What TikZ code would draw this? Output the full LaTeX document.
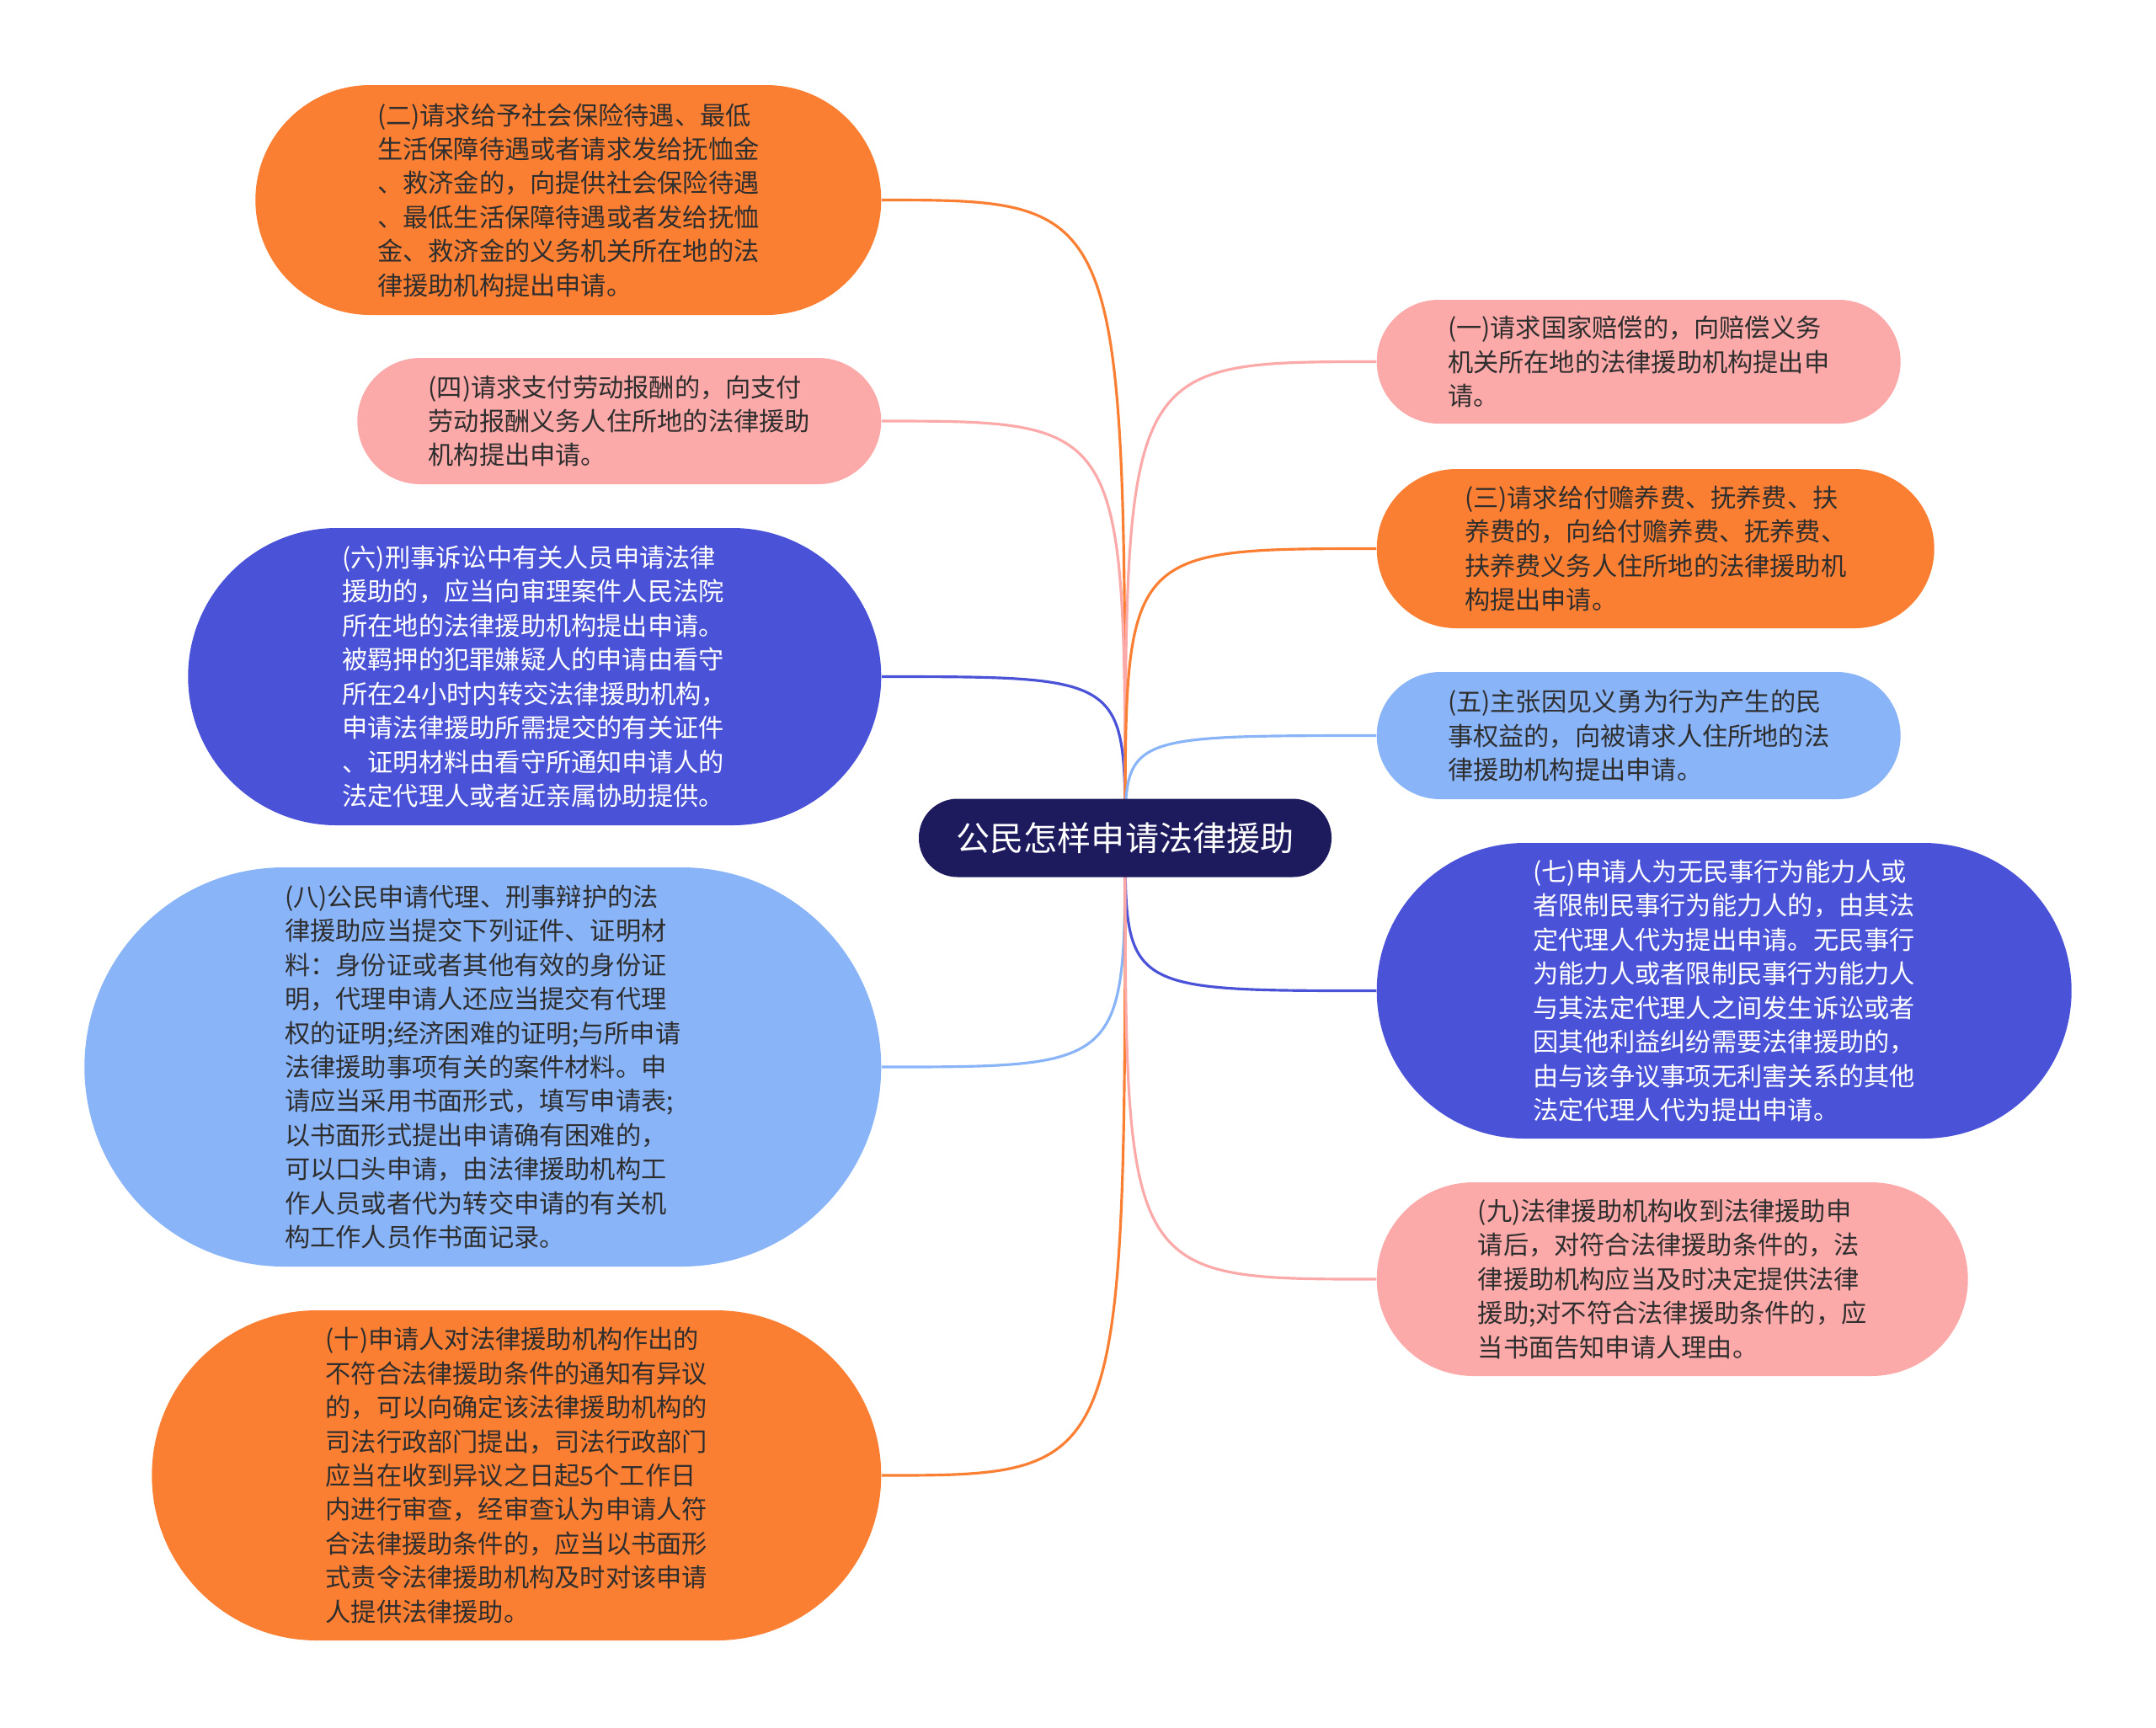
\documentclass[tikz,border=0pt]{standalone}
\usepackage{fontspec}
\setmainfont{Noto Sans CJK SC}
\usetikzlibrary{backgrounds}

\definecolor{orangefill}{HTML}{FB7F32}
\definecolor{pinkfill}{HTML}{FCA9A9}
\definecolor{bluefill}{HTML}{4A52D7}
\definecolor{lightfill}{HTML}{8AB4F8}
\definecolor{rootfill}{HTML}{1D1B5E}
\definecolor{darktext}{HTML}{2E2E2E}

\tikzset{
  leaf/.style 2 args={align=left, inner sep=0pt,
    font=\fontsize{8.6}{11.5}\selectfont,
    minimum width=#1cm, minimum height=#2cm, rounded corners=#2*0.5cm},
  orangeleaf/.style={fill=orangefill, text=darktext},
  pinkleaf/.style={fill=pinkfill, text=darktext},
  blueleaf/.style={fill=bluefill, text=white},
  lightleaf/.style={fill=lightfill, text=darktext},
  link/.style={line width=0.9pt}
}

\begin{document}
\begin{tikzpicture}
    \useasboundingbox (0,0) rectangle (25.6,-20.51);

    % Central topic
    \node[fill=rootfill, text=white, rounded corners=0.46cm,
          minimum width=4.9cm, minimum height=0.93cm,
          font=\fontsize{11.4}{14}\selectfont] (root) at (13.36,-9.95) {公民怎样申请法律援助};

    % Left branches
    \node[leaf={7.43}{2.73}, orangeleaf, anchor=east] (n2) at (10.47,-2.375) {(二)请求给予社会保险待遇、最低\\生活保障待遇或者请求发给抚恤金\\、救济金的，向提供社会保险待遇\\、最低生活保障待遇或者发给抚恤\\金、救济金的义务机关所在地的法\\律援助机构提出申请。};
    \node[leaf={6.22}{1.50}, pinkleaf, anchor=east] (n4) at (10.47,-5.00) {(四)请求支付劳动报酬的，向支付\\劳动报酬义务人住所地的法律援助\\机构提出申请。};
    \node[leaf={8.23}{3.53}, blueleaf, anchor=east] (n6) at (10.47,-8.035) {(六)刑事诉讼中有关人员申请法律\\援助的，应当向审理案件人民法院\\所在地的法律援助机构提出申请。\\被羁押的犯罪嫌疑人的申请由看守\\所在24小时内转交法律援助机构，\\申请法律援助所需提交的有关证件\\、证明材料由看守所通知申请人的\\法定代理人或者近亲属协助提供。};
    \node[leaf={9.46}{4.74}, lightleaf, anchor=east] (n8) at (10.47,-12.67) {(八)公民申请代理、刑事辩护的法\\律援助应当提交下列证件、证明材\\料：身份证或者其他有效的身份证\\明，代理申请人还应当提交有代理\\权的证明;经济困难的证明;与所申请\\法律援助事项有关的案件材料。申\\请应当采用书面形式，填写申请表;\\以书面形式提出申请确有困难的，\\可以口头申请，由法律援助机构工\\作人员或者代为转交申请的有关机\\构工作人员作书面记录。};
    \node[leaf={8.66}{3.92}, orangeleaf, anchor=east] (n10) at (10.47,-17.52) {(十)申请人对法律援助机构作出的\\不符合法律援助条件的通知有异议\\的，可以向确定该法律援助机构的\\司法行政部门提出，司法行政部门\\应当在收到异议之日起5个工作日\\内进行审查，经审查认为申请人符\\合法律援助条件的，应当以书面形\\式责令法律援助机构及时对该申请\\人提供法律援助。};

    % Right branches
    \node[leaf={6.22}{1.47}, pinkleaf, anchor=west] (n1) at (16.34,-4.295) {(一)请求国家赔偿的，向赔偿义务\\机关所在地的法律援助机构提出申\\请。};
    \node[leaf={6.62}{1.89}, orangeleaf, anchor=west] (n3) at (16.34,-6.515) {(三)请求给付赡养费、抚养费、扶\\养费的，向给付赡养费、抚养费、\\扶养费义务人住所地的法律援助机\\构提出申请。};
    \node[leaf={6.22}{1.51}, lightleaf, anchor=west] (n5) at (16.34,-8.735) {(五)主张因见义勇为行为产生的民\\事权益的，向被请求人住所地的法\\律援助机构提出申请。};
    \node[leaf={8.25}{3.51}, blueleaf, anchor=west] (n7) at (16.34,-11.765) {(七)申请人为无民事行为能力人或\\者限制民事行为能力人的，由其法\\定代理人代为提出申请。无民事行\\为能力人或者限制民事行为能力人\\与其法定代理人之间发生诉讼或者\\因其他利益纠纷需要法律援助的，\\由与该争议事项无利害关系的其他\\法定代理人代为提出申请。};
    \node[leaf={7.02}{2.30}, pinkleaf, anchor=west] (n9) at (16.34,-15.19) {(九)法律援助机构收到法律援助申\\请后，对符合法律援助条件的，法\\律援助机构应当及时决定提供法律\\援助;对不符合法律援助条件的，应\\当书面告知申请人理由。};

    % Curved links behind the nodes
    \begin{scope}[on background layer]
        \draw[link, orangefill] (root.center) .. controls (root.center |- n2.east) .. (n2.east);
        \draw[link, pinkfill] (root.center) .. controls (root.center |- n4.east) .. (n4.east);
        \draw[link, bluefill] (root.center) .. controls (root.center |- n6.east) .. (n6.east);
        \draw[link, lightfill] (root.center) .. controls (root.center |- n8.east) .. (n8.east);
        \draw[link, orangefill] (root.center) .. controls (root.center |- n10.east) .. (n10.east);
        \draw[link, pinkfill] (root.center) .. controls (root.center |- n1.west) .. (n1.west);
        \draw[link, orangefill] (root.center) .. controls (root.center |- n3.west) .. (n3.west);
        \draw[link, lightfill] (root.center) .. controls (root.center |- n5.west) .. (n5.west);
        \draw[link, bluefill] (root.center) .. controls (root.center |- n7.west) .. (n7.west);
        \draw[link, pinkfill] (root.center) .. controls (root.center |- n9.west) .. (n9.west);
    \end{scope}

\end{tikzpicture}
\end{document}
